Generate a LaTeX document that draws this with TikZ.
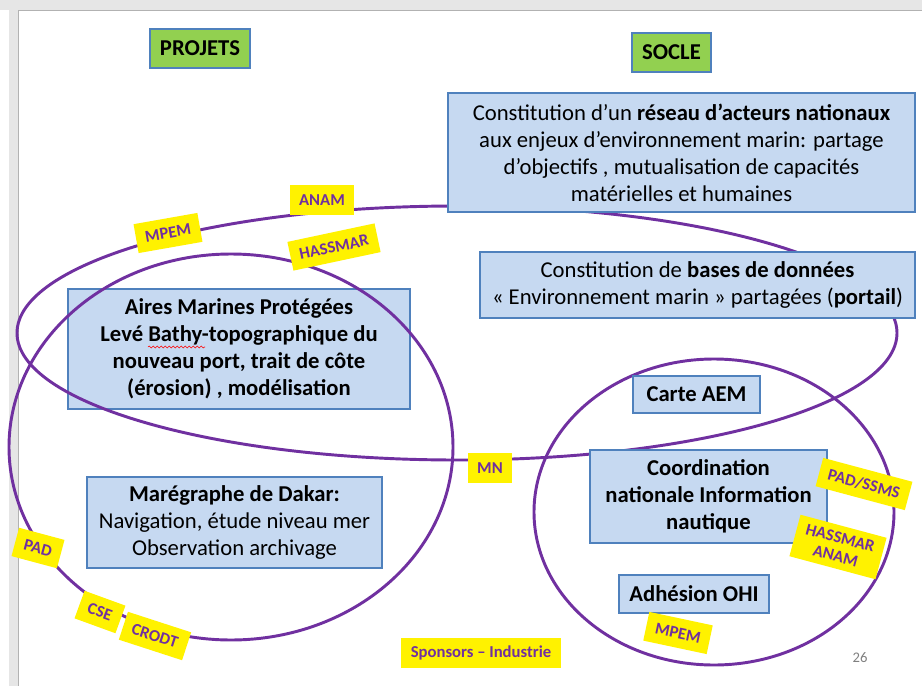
\documentclass[tikz,border=0pt]{standalone}
\usepackage{fontspec}
\setmainfont{Carlito}
\usetikzlibrary{decorations.pathmorphing}

\definecolor{boxblue}{HTML}{C6D9F1}
\definecolor{edgeblue}{HTML}{4F81BD}
\definecolor{leafgreen}{HTML}{92D050}
\definecolor{purp}{HTML}{7030A0}
\definecolor{framegray}{HTML}{E6E6E6}

\tikzset{
  titlebox/.style={draw=edgeblue, line width=1.5pt, fill=leafgreen,
    font=\fontsize{17}{20}\selectfont\bfseries, inner sep=0pt},
  infobox/.style={draw=edgeblue, line width=1.5pt, fill=boxblue, align=center,
    font=\fontsize{17}{20.3}\selectfont, inner sep=0pt},
  boldbox/.style={infobox, font=\fontsize{17}{20.3}\selectfont\bfseries},
  sticker/.style={fill=yellow, text=purp, font=\fontsize{12.5}{14}\selectfont\bfseries,
    inner xsep=7pt, inner ysep=3pt, minimum height=22pt, align=center},
  ring/.style={draw=purp, line width=2.2pt},
}

\begin{document}
\begin{tikzpicture}[x=0.75pt, y=-0.75pt]
        % slide and frame
        \useasboundingbox (0,0) rectangle (922,686);
        \fill[white] (0,0) rectangle (922,686);
        \fill[framegray] (0,0) rectangle (922,10);
        \fill[framegray] (9,0) rectangle (18,686);
        \draw[gray!60, line width=0.6pt] (18,686) -- (18,10) -- (922,10);

        % project box drawn below the rings
        \node[boldbox, minimum width=256.5pt, minimum height=90pt] (aires) at (239,349)
              {Aires Marines Protégées\\Levé Bathy-topographique du\\nouveau port, trait de côte\\(érosion) , modélisation};
        \draw[red, line width=0.4pt, decorate,
              decoration={snake, amplitude=0.7pt, segment length=3pt}] (148,347) -- (205,347);

        % rings
        \draw[ring] (457,333) ellipse [x radius=440, y radius=127];
        \draw[ring] (231,447) ellipse [x radius=222, y radius=193];
        \draw[ring] (714,512) ellipse [x radius=180, y radius=153];

        % titles
        \node[titlebox, minimum width=75pt, minimum height=29pt] (projets) at (200,48.5) {PROJETS};
        \node[titlebox, minimum width=59pt, minimum height=29pt] (socle) at (671.5,52.5) {SOCLE};

        % boxes
        \node[infobox, minimum width=350pt, minimum height=89pt] (reseau) at (681.5,152.5)
              {Constitution d’un \textbf{réseau d’acteurs nationaux}\\aux enjeux d’environnement marin: partage\\d’objectifs , mutualisation de capacités\\matérielles et humaines};
        \node[infobox, minimum width=326pt, minimum height=49.5pt] (bases) at (697.5,285)
              {Constitution de \textbf{bases de données}\\« Environnement marin » partagées (\textbf{portail})};
        \node[infobox, minimum width=221pt, minimum height=68pt] (maregraphe) at (234.5,522.5)
              {\textbf{Marégraphe de Dakar:}\\Navigation, étude niveau mer\\Observation archivage};
        \node[boldbox, minimum width=95pt, minimum height=28pt] (carte) at (696.5,394.5) {Carte AEM};
        \node[boldbox, minimum width=178pt, minimum height=70pt] (coord) at (708.5,496.5)
              {Coordination\\nationale Information\\nautique};
        \node[boldbox, minimum width=112.5pt, minimum height=28.5pt] (ohi) at (694,594) {Adhésion OHI};

        % stickers
        \node[sticker] (anam) at (322,200) {ANAM};
        \node[sticker, rotate=10] (mpem) at (168,233) {MPEM};
        \node[sticker, rotate=12] (hassmar) at (334,247) {HASSMAR};
        \node[sticker, rotate=-15] (pad) at (38,548) {PAD};
        \node[sticker, rotate=-20] (cse) at (100,612) {CSE};
        \node[sticker, rotate=-18] (crodt) at (155,636) {CRODT};
        \node[sticker] (mn) at (490,468) {MN};
        \node[sticker, rotate=-15] (padssms) at (864,484) {PAD/SSMS};
        \node[sticker, rotate=-15, inner ysep=5pt] (hassanam) at (838,547) {HASSMAR\\ANAM};
        \node[sticker, rotate=-12] (mpemohi) at (678,633) {MPEM};
        \node[sticker] (sponsors) at (481,653) {Sponsors -- Industrie};

        \node[text=gray, font=\fontsize{11}{13}\selectfont] (page) at (860,658) {26};
    \end{tikzpicture}
\end{document}
